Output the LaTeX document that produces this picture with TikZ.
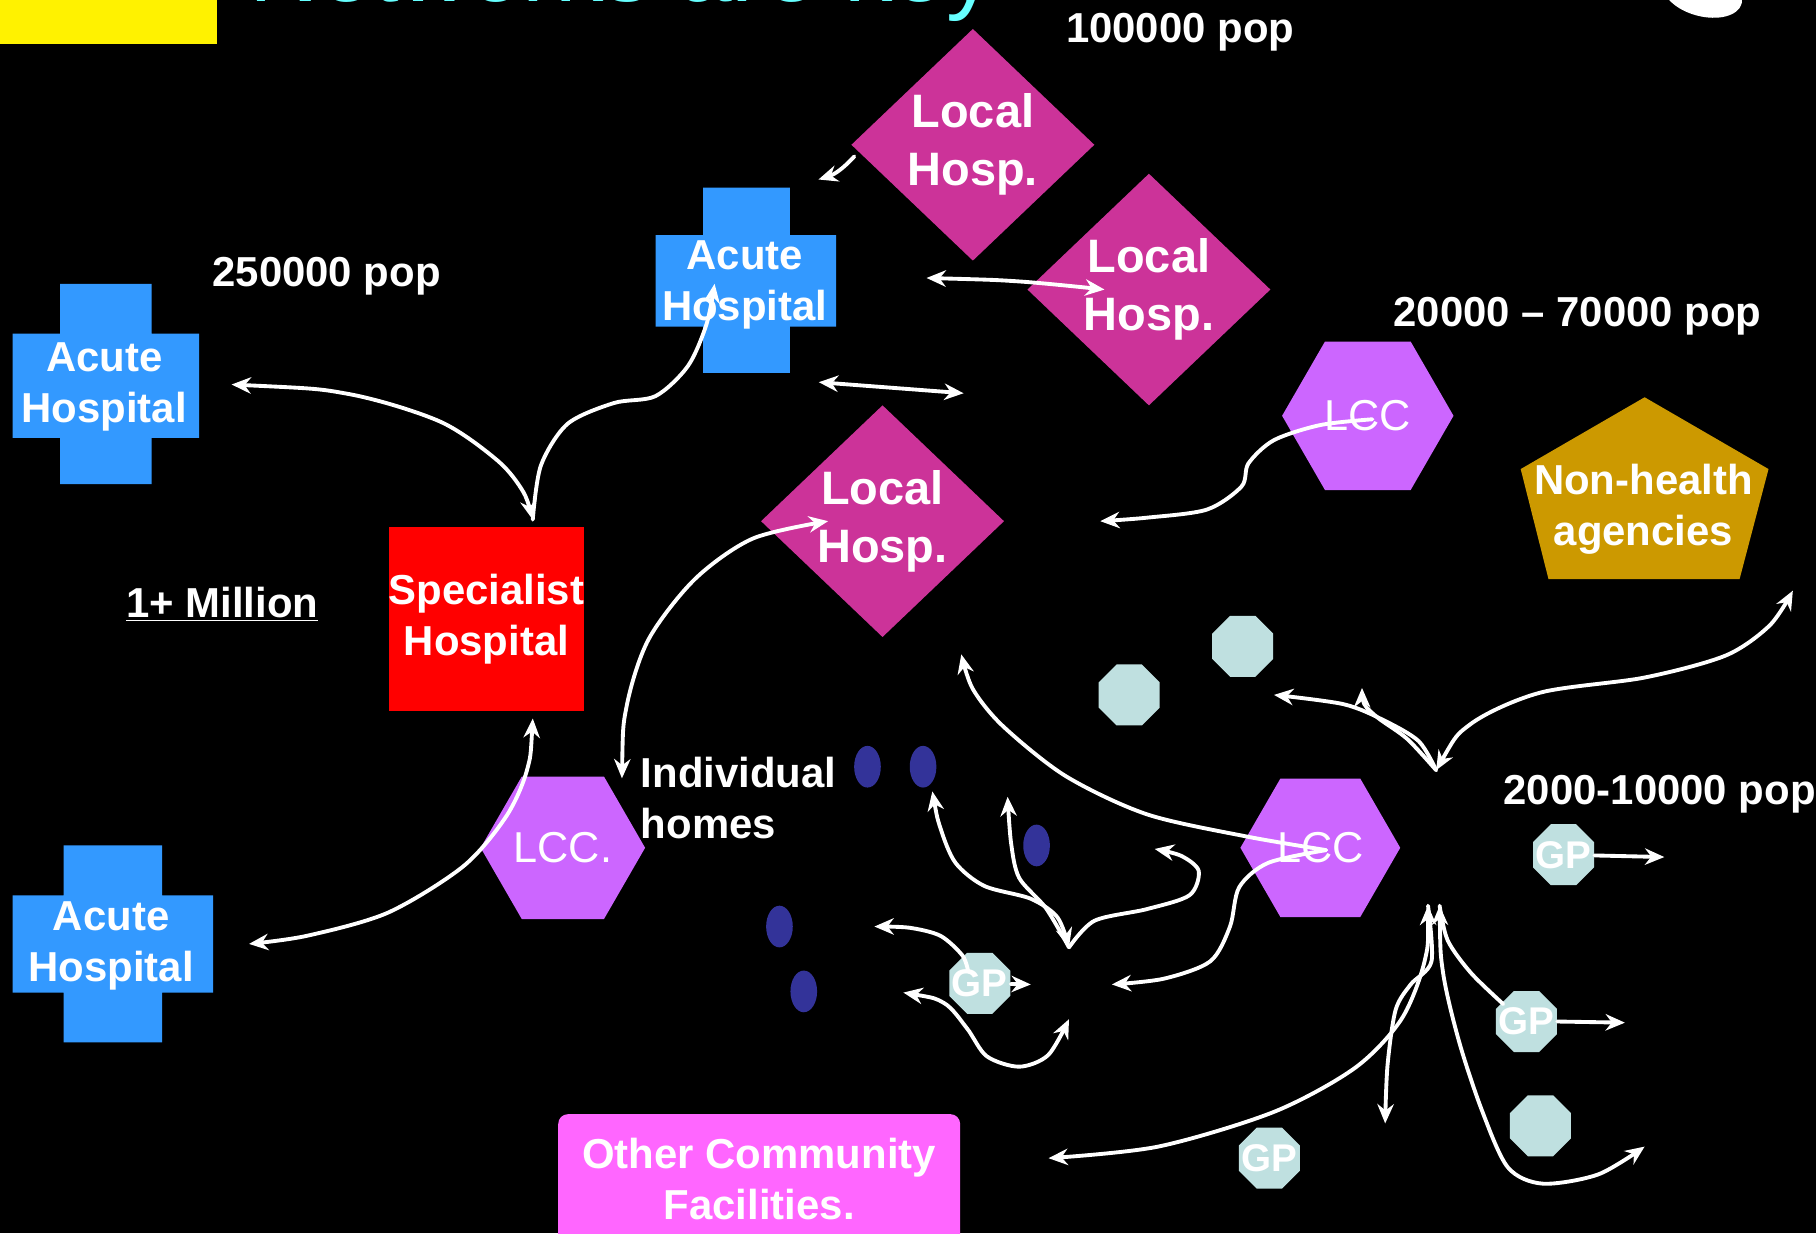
\documentclass[tikz,border=0pt]{standalone}
\usepackage{fontspec}
\setmainfont{Liberation Sans}
\usetikzlibrary{arrows.meta,shapes.geometric,calc}
\definecolor{netacute}{HTML}{3399FF}
\definecolor{netlocal}{HTML}{CC3399}
\definecolor{netspec}{HTML}{FF0000}
\definecolor{netlcc}{HTML}{CC66FF}
\definecolor{netagency}{HTML}{CC9900}
\definecolor{netcomm}{HTML}{FF66FF}
\definecolor{netgp}{HTML}{BFE0E0}
\definecolor{nethome}{HTML}{333399}
\definecolor{nettitle}{HTML}{66FFFF}
\newcommand\pxu{0.6pt}
\tikzset{
  >=Stealth,
  font=\fontsize{21.7}{26.4}\selectfont\bfseries,
  lbl/.style={text=white,inner sep=0pt,align=center},
  poplbl/.style={text=white,inner sep=0pt,anchor=base},
  spec/.style={fill=netspec,minimum width=160*\pxu,minimum height=159*\pxu,
               inner sep=0pt,text=white,align=center},
  local/.style={diamond,fill=netlocal,minimum width=210*\pxu,minimum height=198*\pxu,
                inner sep=0pt,text=white,align=center,
                font=\fontsize{24.3}{30}\selectfont\bfseries},
  lcc/.style={regular polygon,regular polygon sides=6,fill=netlcc,inner sep=0pt,
              text=white,font=\fontsize{22.4}{26}\selectfont\mdseries},
  gp/.style={regular polygon,regular polygon sides=8,fill=netgp,minimum size=57*\pxu,
             inner sep=0pt},
  gptxt/.style={text=white,inner sep=0pt,font=\fontsize{20}{24}\selectfont\bfseries},
  home/.style={ellipse,fill=nethome,minimum width=23*\pxu,minimum height=36*\pxu,inner sep=0pt},
  link/.style={draw=white,line width=2pt,line cap=round,line join=round},
  flow/.style={link,-{Stealth[length=10pt,width=8.5pt]}},
  flow2/.style={link,{Stealth[length=10pt,width=8.5pt]}-{Stealth[length=10pt,width=8.5pt]}},
}

\begin{document}
\begin{tikzpicture}[x=0.6pt,y=-0.6pt]
  \useasboundingbox (0,0) rectangle (1568,1065);
  \clip (0,0) rectangle (1568,1065);
  \fill[black] (0,0) rectangle (1568,1065);

  % ---- slide header (cut off) ----
  \node[fill=yellow,anchor=north west,minimum width=187*\pxu,minimum height=38*\pxu,
        inner sep=0pt] (tag) at (0,0) {};
  \node[anchor=base west,inner sep=0pt,text=nettitle,
        font=\fontsize{50}{60}\selectfont] (title) at (215,1) {Networks are key};
  \fill[white,rotate around={-15:(1470,-6)}] (1470,-6) ellipse [x radius=21pt,y radius=12pt];

  % ---- acute hospitals (crosses) ----
  \fill[netacute] (52,245) rectangle (131,418) (11,288) rectangle (172,378);
  \node[lbl] (acuteL) at (90,334) {Acute\\Hospital};
  \fill[netacute] (607,162) rectangle (682,322) (566,203) rectangle (722,282);
  \node[lbl] (acuteC) at (643,246) {Acute\\Hospital};
  \fill[netacute] (55,730) rectangle (140,900) (11,773) rectangle (184,857);
  \node[lbl] (acuteB) at (96,817) {Acute\\Hospital};

  \node[spec] (spec) at (420,534.5) {Specialist\\Hospital};

  % ---- local hospitals ----
  \node[local] (localA) at (840,125) {Local\\Hosp.};
  \node[local] (localB) at (992,250) {Local\\Hosp.};
  \node[local] (localC) at (762,450) {Local\\Hosp.};

  % ---- LCCs, agencies, community ----
  \node[lcc,minimum size=142*\pxu] (lccL) at (486,732) {LCC.};
  \node[lcc,minimum size=148*\pxu] (lccT) at (1181,359) {LCC};
  \node[lcc,minimum size=138*\pxu] (lccB) at (1140,732) {LCC};
  \fill[netagency] (1420,343) -- (1527,405) -- (1502,500) -- (1337,500) -- (1313,405) -- cycle;
  \node[lbl] (agency) at (1419,440) {Non-health\\agencies};
  \node[fill=netcomm,rounded corners=5pt,minimum width=347*\pxu,minimum height=112*\pxu,
        inner sep=0pt,text=white,align=center] (community) at (655.5,1018)
    {Other Community\\Facilities.};

  % ---- GPs and homes ----
  \node[gp,label={[gptxt]center:GP}] (gp1) at (846,849) {};
  \node[gp,label={[gptxt]center:GP}] (gp2) at (1350,738) {};
  \node[gp,label={[gptxt]center:GP}] (gp3) at (1318,882) {};
  \node[gp,label={[gptxt]center:GP}] (gp4) at (1096,1000) {};
  \node[gp] (dotA) at (975,600) {};
  \node[gp] (dotB) at (1073,558) {};
  \node[gp] (dotC) at (1330,972) {};
  \node[home] (home1) at (749,662) {};
  \node[home] (home2) at (797,662) {};
  \node[home] (home3) at (895,730) {};
  \node[home] (home4) at (673,800) {};
  \node[home] (home5) at (694,856) {};

  % ---- population labels ----
  \node[poplbl] (pop100k) at (1019,37) {100000 pop};
  \node[poplbl] (pop250k) at (282,247) {250000 pop};
  \node[poplbl] (pop20k) at (1362,282) {20000 -- 70000 pop};
  \node[poplbl,anchor=base west] (pop2k) at (1298,695) {2000-10000 pop};
  \node[poplbl] (million) at (192,533) {\underline{1+ Million}};
  \node[lbl,align=left,anchor=west] (homes) at (553,689) {Individual\\homes};

  % ---- free ends ----
  \coordinate (specN) at ($(spec.north)+(40,-6)$);
  \coordinate (specS) at ($(spec.south)+(40,6)$);
  \coordinate (acuteLe) at ($(acuteL)+(110,-2)$);
  \coordinate (acuteCs) at ($(acuteC)+(-26,-1)$);
  \coordinate (acuteBe) at ($(acuteB)+(119,-2)$);
  \coordinate (acuteCe) at ($(acuteC)+(157,-6)$);
  \coordinate (acuteCd) at ($(acuteC)+(64,84)$);
  \coordinate (localAw) at ($(localA.west)+(3,10)$);
  \coordinate (localAo) at ($(localA.west)+(-28,30)$);
  \coordinate (localBw) at ($(localB.west)+(67,0)$);
  \coordinate (localCn) at ($(localC.north)+(70,-10)$);
  \coordinate (localCi) at ($(localC)+(-47,0)$);
  \coordinate (localCup) at (830,565);
  \coordinate (homesTip) at (537,672);
  \coordinate (lccTc) at ($(lccT)+(4,3)$);
  \coordinate (lccTend) at (950,450);
  \coordinate (lccBc) at ($(lccB)+(5,2)$);
  \coordinate (lccBout) at (960,850);
  \coordinate (vtip) at (923,818);
  \coordinate (vup) at (870,688);
  \coordinate (vhook) at (997,733);
  \coordinate (gp1out) at (890,850);
  \coordinate (gp1up) at (755,800);
  \coordinate (gp1left) at (780,857);
  \coordinate (gp1below) at (923,880);
  \coordinate (gp2out) at (1437,740);
  \coordinate (gp3out) at (1403,883);
  \coordinate (hubL) at (1233,782);
  \coordinate (hubR) at (1243,782);
  \coordinate (hubDown) at (1196,970);
  \coordinate (hubSE) at (1420,990);
  \coordinate (commOut) at ($(community.east)+(76,-18)$);
  \coordinate (vtop) at (1240,665);
  \coordinate (agencyOut) at (1548,510);
  \coordinate (vleft) at (1100,600);

  % ---- specialist links ----
  \draw[flow2] plot[smooth] coordinates {(acuteLe) (300,340) (380,364) (430,398) (452,425) (specN)};
  \draw[flow] plot[smooth] coordinates {(specN) (467,402) (490,366) (530,348) (566,342) (594,316) (610,280) (acuteCs)};
  \draw[flow2] plot[smooth] coordinates {(specS) (455,665) (437,705) (400,748) (335,788) (265,808) (acuteBe)};

  % ---- acute <-> local ----
  \draw[flow] (localAw) to[bend left=15] (localAo);
  \draw[flow2] plot[smooth] coordinates {(acuteCe) (880,243) (localBw)};
  \draw[flow2] (acuteCd) -- (localCn);
  \draw[flow] plot[smooth] coordinates {(lccTc) (1140,367) (1100,380) (1078,400) (1072,420) (1042,440) (990,447) (lccTend)};
  \draw[flow2] plot[smooth] coordinates {(homesTip) (541,610) (560,552) (600,500) (650,465) (localCi)};
  \draw[flow] plot[smooth] coordinates {(lccBc) (1075,722) (990,703) (920,670) (866,627) (840,595) (localCup)};

  % ---- homes and GP bundle ----
  \draw[flow2] plot[smooth] coordinates {($(home2.south)+(8,3)$) (812,715) (825,745) (850,765) (890,776) (913,792) (vtip)};
  \draw[flow] plot[smooth] coordinates {(vtip) (903,784) (880,758) (873,728) (vup)};
  \draw[flow] plot[smooth] coordinates {(vtip) (945,795) (990,785) (1027,773) (1035,752) (1020,739) (vhook)};
  \draw[flow] (gp1) -- (gp1out);
  \draw[flow] plot[smooth] coordinates {($(gp1)+(-10,-10)$) (831,825) (812,808) (785,801) (gp1up)};
  \draw[flow2] plot[smooth] coordinates {(gp1left) (815,866) (835,888) (852,912) (880,921) (905,911) (gp1below)};
  \draw[flow] plot[smooth] coordinates {(lccBc) (1095,745) (1070,766) (1062,800) (1045,830) (1005,845) (lccBout)};

  % ---- practice-level hub ----
  \draw[flow] (gp2) -- (gp2out);
  \draw[flow] (gp3.east) -- (gp3out);
  \draw[flow2] plot[smooth] coordinates {(hubL) (1230,830) (1210,880) (1170,922) (1100,960) (1000,990) (commOut)};
  \draw[flow] plot[smooth] coordinates {(hubL) (1236,830) (1218,850) (1205,872) (1198,920) (hubDown)};
  \draw[flow2] plot[smooth] coordinates {(hubR) (1246,840) (1260,900) (1280,960) (1302,1008) (1332,1022) (1380,1014) (hubSE)};
  \draw[link] plot[smooth] coordinates {($(gp3)+(-20,-15)$) (1270,840) (1250,812) (hubR)};
  \draw[flow2] plot[smooth] coordinates {(vtop) (1270,625) (1330,598) (1420,585) (1490,566) (1528,540) (agencyOut)};
  \draw[flow] plot[smooth] coordinates {(vtop) (1225,640) (1195,622) (1160,608) (vleft)};
  \draw[flow] plot[smooth] coordinates {(vtop) (1215,638) (1190,620) (1178,608) (1176,594)};
\end{tikzpicture}
\end{document}
